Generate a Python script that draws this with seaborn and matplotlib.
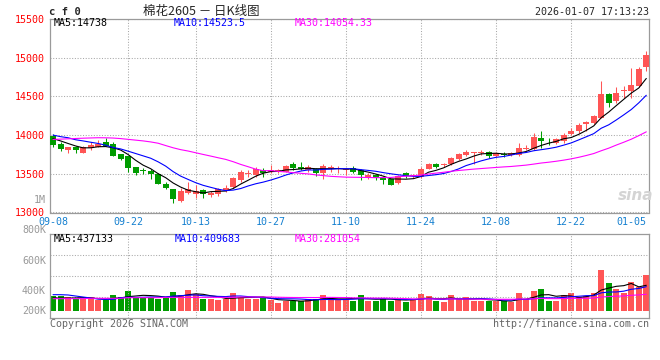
import numpy as np
import pandas as pd
import matplotlib
matplotlib.use("Agg")
import matplotlib.pyplot as plt
import seaborn as sns

# CF0 cotton, daily K line 2025-09-08 .. 2026-01-07
opens = [13990, 13890, 13810, 13850, 13772, 13832, 13849, 13910, 13880, 13751,
         13729, 13587, 13548, 13531, 13492, 13372, 13299, 13149, 13256, 13235,
         13286, 13226, 13235, 13290, 13329, 13420, 13498, 13480, 13544, 13523,
         13533, 13527, 13630, 13587, 13544, 13557, 13505, 13576, 13560, 13545,
         13570, 13544, 13450, 13480, 13450, 13428, 13377, 13505, 13468, 13458,
         13566, 13630, 13609, 13622, 13695, 13742, 13768, 13770, 13781, 13729,
         13745, 13738, 13738, 13822, 13815, 13957, 13925, 13901, 13923, 14009,
         14052, 14138, 14159, 14224, 14533, 14439, 14572, 14576, 14632, 14882]
highs = [14010, 13905, 13850, 13860, 13858, 13910, 13935, 13961, 13910, 13755,
         13735, 13590, 13579, 13557, 13505, 13394, 13310, 13320, 13398, 13355,
         13299, 13278, 13320, 13355, 13458, 13544, 13544, 13587, 13570, 13613,
         13561, 13613, 13656, 13656, 13613, 13579, 13621, 13613, 13600, 13579,
         13600, 13557, 13514, 13493, 13471, 13437, 13480, 13520, 13493, 13587,
         13642, 13642, 13642, 13716, 13772, 13802, 13785, 13802, 13790, 13785,
         13785, 13785, 13901, 13871, 14030, 14052, 13966, 13966, 14030, 14086,
         14159, 14180, 14258, 14697, 14546, 14619, 14632, 14869, 14877, 15092]
lows = [13850, 13790, 13765, 13765, 13770, 13802, 13840, 13855, 13725, 13677,
        13523, 13480, 13493, 13428, 13370, 13299, 13127, 13140, 13243, 13183,
        13192, 13200, 13213, 13269, 13320, 13398, 13458, 13463, 13458, 13510,
        13510, 13520, 13548, 13548, 13527, 13471, 13428, 13527, 13505, 13484,
        13505, 13415, 13428, 13415, 13364, 13351, 13365, 13440, 13441, 13450,
        13557, 13578, 13587, 13609, 13678, 13725, 13630, 13738, 13699, 13716,
        13716, 13725, 13729, 13802, 13802, 13837, 13871, 13888, 13901, 13996,
        14030, 14052, 14138, 14215, 14361, 14417, 14482, 14482, 14619, 14826]
closes = [13870, 13815, 13845, 13806, 13841, 13871, 13884, 13858, 13729, 13695,
          13579, 13514, 13542, 13501, 13372, 13320, 13170, 13278, 13299, 13278,
          13235, 13256, 13299, 13320, 13441, 13523, 13504, 13557, 13514, 13544,
          13537, 13600, 13579, 13557, 13587, 13505, 13600, 13582, 13565, 13550,
          13527, 13484, 13480, 13441, 13415, 13355, 13471, 13470, 13475, 13557,
          13630, 13591, 13630, 13699, 13751, 13785, 13774, 13776, 13729, 13764,
          13740, 13772, 13837, 13826, 13974, 13923, 13918, 13953, 13996, 14052,
          14129, 14172, 14245, 14525, 14417, 14546, 14580, 14645, 14856, 15032]
volume_k = [253, 247, 230, 197, 197, 230, 185, 185, 264, 242,
            332, 242, 242, 242, 197, 242, 315, 264, 348, 281,
            197, 197, 180, 208, 298, 242, 208, 208, 230, 180,
            129, 174, 174, 174, 208, 208, 264, 197, 208, 208,
            174, 264, 174, 174, 219, 174, 208, 152, 197, 281,
            247, 163, 146, 264, 197, 230, 174, 174, 174, 174,
            163, 152, 298, 208, 332, 365, 174, 163, 264, 298,
            230, 253, 298, 686, 466, 377, 309, 483, 399, 601]

# moving averages before enough bars are on screen
ma5_head = [13955, 13925, 13892, 13860]
ma10_head = [14000, 13980, 13966, 13940, 13925, 13908, 13892, 13870, 13840]
ma30_head = [13944, 13948, 13952, 13956, 13960, 13963, 13966, 13965, 13962, 13955,
             13945, 13935, 13925, 13912, 13895, 13865, 13836, 13812, 13794, 13772,
             13750, 13729, 13707, 13686, 13656, 13621, 13591, 13560, 13540]
vma5_head = [220, 218, 218, 220]
vma10_head = [275, 275, 270, 253, 236, 219, 202, 197, 197]
vma30_head = [208, 208, 208, 208, 208, 214, 214, 214, 214, 214,
              225, 225, 225, 225, 225, 230, 230, 230, 230, 230,
              230, 230, 230, 230, 230, 236, 236, 236, 236]

tick_pos = [0, 10, 19, 29, 39, 49, 59, 69, 77]
tick_labels = ["09-08", "09-22", "10-13", "10-27", "11-10", "11-24", "12-08", "12-22", "01-05"]
price_ticks = [13000, 13500, 14000, 14500, 15000, 15500]
vol_labels = ["1M", "800K", "600K", "400K", "200K"]
price_legend = ["MA5:14738", "MA10:14523.5", "MA30:14054.33"]
vol_legend = ["MA5:437133", "MA10:409683", "MA30:281054"]

RED = "#ff5555"
GREEN = "#009c00"
GRID = "#a8a8a8"
FRAME = "#9a9a9a"
DATE_BLUE = "#1580d0"
MA_COLORS = {"MA5": "black", "MA10": "#0000ff", "MA30": "#ff00ff"}
DOTS = (0, (1, 1.6))

sns.set_theme(style="white")
plt.rcParams["font.family"] = ["DejaVu Sans Mono", "Noto Sans CJK SC"]

W, H = 660, 360
fig = plt.figure(figsize=(W / 100, H / 100), dpi=100)


def box(x0, y0, x1, y1):
    return [x0 / W, 1 - y1 / H, (x1 - x0) / W, (y1 - y0) / H]


def label(x, y, s, ha="left", **kw):
    fig.text(x / W, 1 - y / H, s, ha=ha, va="center", **kw)


def moving_avg(values, n, head):
    s = pd.Series(values, dtype=float).rolling(n).mean()
    s.iloc[: n - 1] = head
    return s.to_numpy()


def style_frame(a):
    for s in a.spines.values():
        s.set_visible(True)
        s.set_color(FRAME)
        s.set_linewidth(0.9)
    a.set_xlabel("")
    a.set_ylabel("")
    a.set_xlim(-0.4, 79.36)
    for i in tick_pos[1:-1]:
        a.axvline(i, color=GRID, lw=0.75, ls=DOTS, zorder=1)


ax = fig.add_axes(box(50, 19, 649, 212.5))
axv = fig.add_axes(box(50, 234.3, 649, 318.3))

k = pd.DataFrame({"open": opens, "high": highs, "low": lows, "close": closes})
k["i"] = np.arange(len(k))
up = k["close"] >= k["open"]
col = np.where(up, RED, GREEN)

# candles
ax.vlines(k["i"], k["low"], k["high"], colors=col, lw=0.75, zorder=2)
ax.bar(k["i"], (k["close"] - k["open"]).abs().clip(lower=12),
       bottom=k[["open", "close"]].min(axis=1), width=0.8, color=col, lw=0, zorder=3)

ma = pd.DataFrame({
    "i": k["i"],
    "MA5": moving_avg(closes, 5, ma5_head),
    "MA10": moving_avg(closes, 10, ma10_head),
    "MA30": moving_avg(closes, 30, ma30_head),
}).melt("i", var_name="line", value_name="value")
sns.lineplot(data=ma, x="i", y="value", hue="line", palette=MA_COLORS,
             lw=0.8, legend=False, ax=ax, zorder=4)

style_frame(ax)
ax.set_ylim(13000, 15500)
ax.set_yticks(price_ticks)
ax.yaxis.grid(True, color=GRID, lw=0.75, ls=DOTS)
ax.xaxis.grid(False)
ax.set_xticks(tick_pos)
ax.set_xticklabels(tick_labels)
ax.tick_params(axis="y", length=0, pad=4, labelsize=7.2, labelcolor="#ff0000")
ax.tick_params(axis="x", length=0, pad=3.2, labelsize=7.2, labelcolor=DATE_BLUE)

# volume
vdf = pd.DataFrame({"i": k["i"], "vol": np.array(volume_k) * 1000,
                    "side": np.where(up, "up", "down")})
sns.barplot(data=vdf, x="i", y="vol", hue="side", palette={"up": RED, "down": GREEN},
            native_scale=True, dodge=False, width=0.8, saturation=1, errorbar=None,
            legend=False, linewidth=0, ax=axv)
vma = pd.DataFrame({
    "i": k["i"],
    "MA5": moving_avg(vdf["vol"] / 1000, 5, vma5_head) * 1000,
    "MA10": moving_avg(vdf["vol"] / 1000, 10, vma10_head) * 1000,
    "MA30": moving_avg(vdf["vol"] / 1000, 30, vma30_head) * 1000,
}).melt("i", var_name="line", value_name="value")
sns.lineplot(data=vma, x="i", y="value", hue="line", palette=MA_COLORS,
             lw=0.8, legend=False, ax=axv, zorder=4)

style_frame(axv)
lo, hi = -123000, 1293000
axv.set_ylim(lo, hi)
axv.set_yticks([lo + (hi - lo) * f for f in (0.25, 0.5, 0.75)])
axv.yaxis.grid(True, color=GRID, lw=0.75, ls=DOTS)
axv.xaxis.grid(False)
axv.set_xticks(tick_pos)
axv.tick_params(length=0, labelleft=False, labelbottom=False)

# texts
label(49, 12, "c f 0", weight="bold", size=7.6)
label(201, 11.5, "棉花2605 － 日K线图", ha="center", size=9,
      family=["Noto Sans CJK SC", "DejaVu Sans"])
label(649, 12, "2026-01-07 17:13:23", ha="right", size=7.2)
for x, s, c in zip((54, 174, 295), price_legend, MA_COLORS.values()):
    label(x, 23.5, s, color=c, size=7.2)
for x, s, c in zip((54, 175, 295), vol_legend, MA_COLORS.values()):
    label(x, 238.5, s, color=c, size=7.2)
for y, s in zip((200, 230.5, 260.7, 291, 311.3), vol_labels):
    label(46, y, s, ha="right", color="#999999", size=7.2)
label(50, 324, "Copyright 2026 SINA.COM", color="#666666", size=7.2)
label(649, 324, "http://finance.sina.com.cn", ha="right", color="#666666", size=7.2)
label(636, 196, "sina", ha="center", color="#d4d4d4", size=11, style="italic",
      weight="bold", family="DejaVu Sans")

fig.savefig("out.png", dpi=100)
